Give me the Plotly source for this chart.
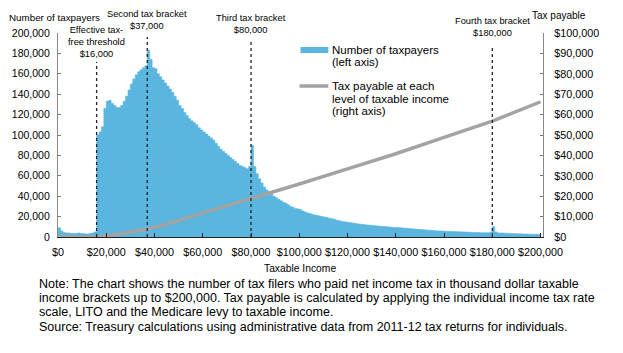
import plotly.graph_objects as go

# Number of taxpayers per $1,000 taxable income bracket (thousands), brackets $0k..$199k
taxpayers_k = [
    9, 6, 4.5, 4, 4, 3.5, 3.5, 3.5, 4, 3.5, 3.5, 3, 3, 3.5, 4, 5,
    100, 103, 108, 126, 133, 134, 131, 129, 127, 127, 129, 133, 138, 144,
    150, 155, 159, 162, 164, 166, 168, 183, 174, 166,
    165, 160, 157, 154, 151, 148, 145, 142, 138, 134,
    129, 126, 122, 119, 116, 114, 112, 110, 107, 105,
    103, 101, 99, 97, 95, 92, 89, 86, 84, 82,
    80, 78, 76, 74, 72, 70, 69, 68, 67, 69,
    90, 69, 62, 57, 53, 49, 46, 44, 42, 40,
    38.5, 37, 35.5, 34, 33, 31.5, 30, 29, 28, 27.5,
    27, 25.5, 24.5, 23.5, 23, 22, 21.5, 21, 20.5, 20,
    19.5, 19, 18.5, 18, 17.5, 16.5, 16, 15.5, 15, 14.7,
    14.3, 14, 13.6, 13.2, 12.8, 12.5, 12.2, 12, 11.7, 11.4,
    11.2, 11, 10.8, 10.6, 10.4, 10.2, 10, 9.8, 9.6, 9.4,
    9.3, 9.1, 8.9, 8.7, 8.5, 8.3, 8.1, 7.9, 7.7, 7.5,
    7.3, 7.1, 6.9, 6.7, 6.5, 6.3, 6.1, 6, 5.9, 5.8,
    5.7, 5.6, 5.5, 5.4, 5.3, 5.2, 5.1, 5, 4.9, 4.8,
    4.7, 4.6, 4.5, 4.4, 4.3, 4.2, 4.1, 4.1, 4.2, 5,
    10, 5, 4, 3.9, 3.8, 3.7, 3.6, 3.5, 3.4, 3.3,
    3.2, 3.1, 3, 2.9, 2.9, 2.8, 2.7, 2.6, 2.6, 2.5,
]
bracket_start = list(range(0, 200000, 1000))

# Tax payable at each level of taxable income (right axis)
tax_income = [0, 10000, 16000, 20000, 25000, 30000, 37000, 45000, 60000, 80000,
              100000, 120000, 140000, 160000, 180000, 200000]
tax_payable = [0, 0, 0, 500, 1300, 2300, 3900, 6200, 11800, 18700,
               26000, 33400, 40800, 48800, 56800, 66300]

# Reference lines
marker_x = [16000, 37000, 80000, 180000]
marker_labels = ["Effective tax-<br>free threshold<br>$16,000",
                 "Second tax bracket<br>$37,000",
                 "Third tax bracket<br>$80,000",
                 "Fourth tax bracket<br>$180,000"]
marker_label_y = [0.865, 1.0, 0.978, 0.968]
marker_line_top = [0.858, 0.98, 0.956, 0.941]

legend_bar_lines = ["Number of taxpayers", "(left axis)"]
legend_line_lines = ["Tax payable at each", "level of taxable income", "(right axis)"]

note_lines = [
    "Note: The chart shows the number of tax filers who paid net income tax in thousand dollar taxable",
    "income brackets up to $200,000. Tax payable is calculated by applying the individual income tax rate",
    "scale, LITO and the Medicare levy to taxable income.",
    "Source: Treasury calculations using administrative data from 2011-12 tax returns for individuals.",
]

left_ticks = list(range(0, 200001, 20000))
right_ticks = list(range(0, 100001, 10000))
x_ticks = list(range(0, 200001, 20000))

FONT = "Liberation Sans, Arial, sans-serif"
BLUE = "#5ab6de"
GREY = "#a3a3a3"

# paper y for a pixel row (plot area from y=33 to y=237)
def py(p):
    return (237 - p) / 204.0

def px(p):
    return (p - 55) / 488.0

fig = go.Figure()
fig.add_trace(go.Scatter(
    x=bracket_start + [200000],
    y=[v * 1000 for v in taxpayers_k] + [taxpayers_k[-1] * 1000],
    mode="lines", line=dict(width=0.6, shape="hv", color=BLUE),
    fill="tozeroy", fillcolor=BLUE,
    yaxis="y", showlegend=False,
))
fig.add_trace(go.Scatter(
    x=tax_income, y=tax_payable, mode="lines",
    line=dict(color=GREY, width=3.5),
    yaxis="y2", showlegend=False,
))

shapes = []
for xv, top in zip(marker_x, marker_line_top):
    shapes.append(dict(type="line", xref="x", yref="paper", x0=xv, x1=xv, y0=0, y1=top,
                       line=dict(color="#222222", width=1.3, dash="dot")))
# legend (manual)
shapes.append(dict(type="rect", xref="paper", yref="paper", x0=px(299), x1=px(327),
                   y0=py(53), y1=py(47), fillcolor=BLUE, line=dict(width=0)))
shapes.append(dict(type="line", xref="paper", yref="paper", x0=px(298), x1=px(327),
                   y0=py(86), y1=py(86), line=dict(color=GREY, width=3.5)))

annotations = []
for xv, lab, yv in zip(marker_x, marker_labels, marker_label_y):
    annotations.append(dict(x=xv, y=yv, xref="x", yref="paper", text=lab, showarrow=False,
                            xanchor="center", yanchor="bottom", align="center",
                            font=dict(size=9.3, color="black", family=FONT)))
for i, t in enumerate(legend_bar_lines):
    annotations.append(dict(x=px(329), y=py(50 + 12 * i), xref="paper", yref="paper", text=t,
                            showarrow=False, xanchor="left", yanchor="middle",
                            font=dict(size=11.5, color="black", family=FONT)))
for i, t in enumerate(legend_line_lines):
    annotations.append(dict(x=px(329), y=py(86 + 12.5 * i), xref="paper", yref="paper", text=t,
                            showarrow=False, xanchor="left", yanchor="middle",
                            font=dict(size=11.5, color="black", family=FONT)))
for i, t in enumerate(note_lines):
    annotations.append(dict(x=px(34), y=py(283.5 + 14.4 * i), xref="paper", yref="paper", text=t,
                            showarrow=False, xanchor="left", yanchor="middle",
                            font=dict(size=12.5, color="black", family=FONT)))
annotations += [
    dict(x=px(4), y=py(17), xref="paper", yref="paper", text="Number of taxpayers",
         showarrow=False, xanchor="left", yanchor="middle",
         font=dict(size=9.8, color="black", family=FONT)),
    dict(x=px(530), y=py(15), xref="paper", yref="paper", text="Tax payable",
         showarrow=False, xanchor="left", yanchor="middle",
         font=dict(size=10, color="black", family=FONT)),
    dict(x=px(298), y=py(268), xref="paper", yref="paper", text="Taxable Income",
         showarrow=False, xanchor="center", yanchor="middle",
         font=dict(size=10.3, color="black", family=FONT)),
]

fig.update_layout(
    width=623, height=353,
    margin=dict(l=55, r=80, t=33, b=116),
    paper_bgcolor="white", plot_bgcolor="white",
    font=dict(family=FONT, size=10, color="black"),
    xaxis=dict(range=[0, 201000], tickvals=x_ticks,
               ticktext=["$" + format(v, ",") for v in x_ticks],
               ticks="inside", ticklen=4, tickcolor="#222222",
               showline=True, linecolor="#222222", linewidth=1.2,
               showgrid=False, zeroline=False, ticklabelstandoff=5,
               tickfont=dict(size=10.8, color="black")),
    yaxis=dict(range=[0, 200000], tickvals=left_ticks,
               ticktext=[format(v, ",") for v in left_ticks],
               ticks="inside", ticklen=3, tickcolor="#777777",
               showline=True, linecolor="#888888", linewidth=1.2,
               showgrid=False, zeroline=False, ticklabelstandoff=5,
               tickfont=dict(size=10.5, color="black")),
    yaxis2=dict(range=[0, 100000], overlaying="y", side="right",
                tickvals=right_ticks,
                ticktext=["$" + format(v, ",") for v in right_ticks],
                ticks="inside", ticklen=3, tickcolor="#777777",
                showline=True, linecolor="#888888", linewidth=1.2,
                showgrid=False, zeroline=False, ticklabelstandoff=8,
                tickfont=dict(size=10.8, color="black")),
    shapes=shapes,
    annotations=annotations,
)

fig.write_html("out.html")
